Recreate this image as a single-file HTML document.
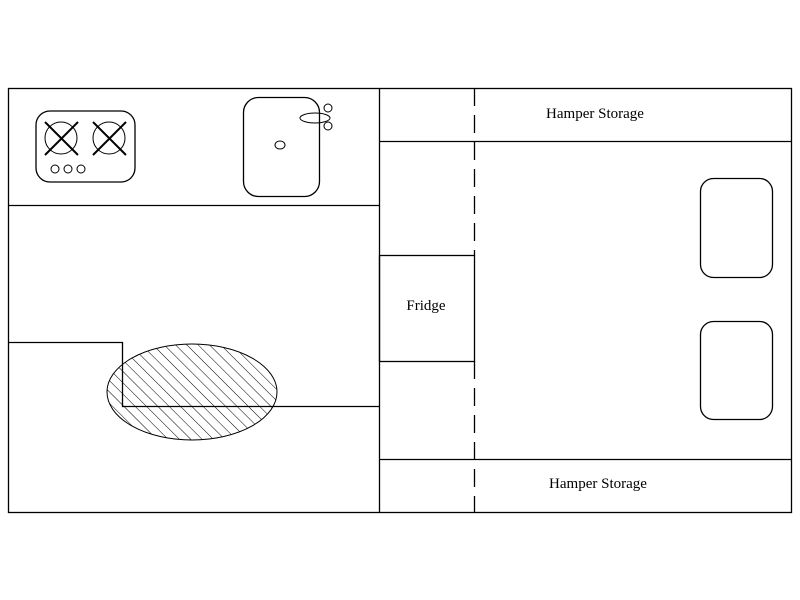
<!DOCTYPE html>
<html><head><style>body{margin:0;background:#fff}svg{display:block}</style></head><body>
<svg width="800" height="600" xmlns="http://www.w3.org/2000/svg">
<defs>
<pattern id="h" patternUnits="userSpaceOnUse" width="8" height="8" patternTransform="rotate(-45)">
<line x1="0" y1="0" x2="0" y2="8" stroke="#000" stroke-width="1"/>
</pattern>
</defs>
<g fill="none" stroke="#000" stroke-width="1.3">
<rect x="8.5" y="88.5" width="783" height="424"/>
<line x1="379.5" y1="88" x2="379.5" y2="512"/>
<line x1="8" y1="205.5" x2="379" y2="205.5"/>
<line x1="379" y1="141.5" x2="792" y2="141.5"/>
<line x1="379" y1="459.5" x2="792" y2="459.5"/>
<line x1="474.5" y1="88" x2="474.5" y2="255" stroke-dasharray="18 9"/>
<line x1="474.5" y1="361" x2="474.5" y2="512" stroke-dasharray="18 9"/>
<rect x="379.5" y="255.5" width="95" height="106"/>
<ellipse cx="192" cy="392" rx="85" ry="48" fill="url(#h)" stroke-width="1"/>
<polyline points="8,342.5 122.5,342.5 122.5,406.5 379,406.5"/>
<rect x="36" y="111" width="99" height="71" rx="14"/>
<circle cx="61" cy="138" r="16" stroke-width="1"/>
<circle cx="109" cy="138" r="16" stroke-width="1"/>
<g stroke-width="2">
<line x1="45" y1="122" x2="78" y2="155"/><line x1="78" y1="122" x2="45" y2="155"/>
<line x1="93" y1="122" x2="126" y2="155"/><line x1="126" y1="122" x2="93" y2="155"/>
</g>
<circle cx="55" cy="169" r="4" stroke-width="1"/>
<circle cx="68" cy="169" r="4" stroke-width="1"/>
<circle cx="81" cy="169" r="4" stroke-width="1"/>
<rect x="243.5" y="97.5" width="76" height="99" rx="15"/>
<ellipse cx="280" cy="145" rx="5" ry="4" stroke-width="1"/>
<ellipse cx="315" cy="118" rx="15" ry="5" stroke-width="1"/>
<circle cx="328" cy="108" r="4" stroke-width="1"/>
<circle cx="328" cy="126" r="4" stroke-width="1"/>
<rect x="700.5" y="178.5" width="72" height="99" rx="13"/>
<rect x="700.5" y="321.5" width="72" height="98" rx="13"/>
</g>
<g font-family="Liberation Serif, serif" font-size="15" fill="#000" text-anchor="middle">
<text x="595" y="118">Hamper Storage</text>
<text x="598" y="488">Hamper Storage</text>
<text x="426" y="310">Fridge</text>
</g>
</svg>
</body></html>
